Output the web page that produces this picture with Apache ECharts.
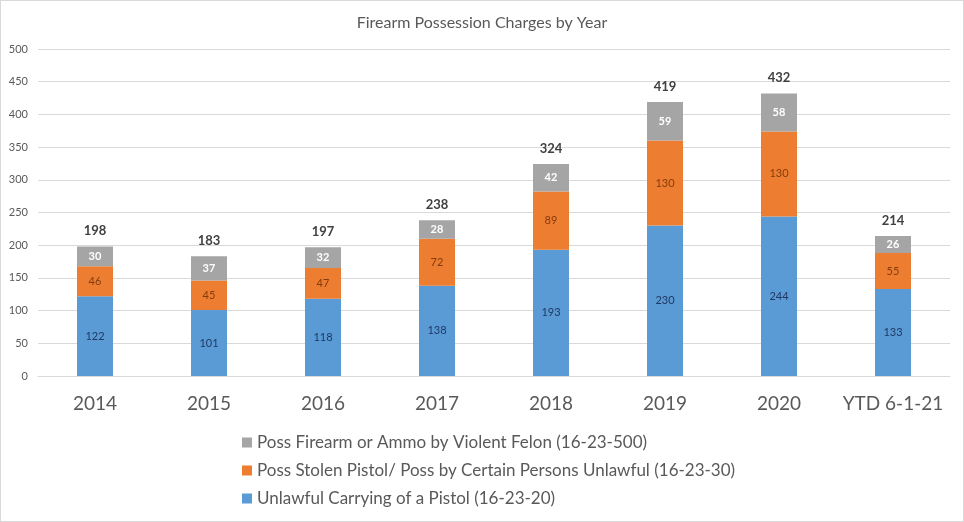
<!DOCTYPE html>
<html>
<head>
<meta charset="utf-8">
<script src="https://cdn.jsdelivr.net/npm/echarts@6/dist/echarts.min.js"></script>
<style>
html,body{margin:0;padding:0;background:#fff;}
#chart{width:962px;height:520px;border:1px solid #d9d9d9;}
</style>
</head>
<body>
<div id="chart"></div>
<script>
const categories = ['2014','2015','2016','2017','2018','2019','2020','YTD 6-1-21'];
const unlawfulCarrying = [122,101,118,138,193,230,244,133];
const stolenPistol = [46,45,47,72,89,130,130,55];
const violentFelon = [30,37,32,28,42,59,58,26];
const yTicks = {min:0,max:500,interval:50};

const names = [
  'Unlawful Carrying of a Pistol (16-23-20)',
  'Poss Stolen Pistol/ Poss by Certain Persons Unlawful (16-23-30)',
  'Poss Firearm or Ammo by Violent Felon (16-23-500)'
];
const totals = categories.map((c,i)=>unlawfulCarrying[i]+stolenPistol[i]+violentFelon[i]);
const font = 'Lato, "Open Sans", sans-serif';

const chart = echarts.init(document.getElementById('chart'));
chart.setOption({
  animation:false,
  textStyle:{fontFamily:font},
  title:{text:'Firearm Possession Charges by Year',left:'center',top:9,
    textStyle:{fontSize:16,fontWeight:'normal',color:'#595959',fontFamily:font}},
  grid:{left:37,right:13,top:48,bottom:145,containLabel:false},
  legend:{orient:'vertical',left:236,top:428,itemGap:11,itemWidth:10,itemHeight:10,
    icon:'rect',data:[names[2],names[1],names[0]],
    textStyle:{fontSize:17,color:'#595959',fontFamily:font}},
  xAxis:{type:'category',data:categories,
    axisLine:{lineStyle:{color:'#d9d9d9'}},axisTick:{show:false},
    axisLabel:{interval:0,fontSize:19,color:'#595959',margin:18,fontFamily:font}},
  yAxis:{type:'value',min:yTicks.min,max:yTicks.max,interval:yTicks.interval,
    axisLine:{show:false},axisTick:{show:false},
    splitLine:{lineStyle:{color:'#d9d9d9'}},
    axisLabel:{fontSize:11,color:'#595959',margin:10,fontFamily:font}},
  series:[
    {name:names[0],type:'bar',stack:'t',barWidth:36,data:unlawfulCarrying,
      itemStyle:{color:'#5B9BD5'},
      label:{show:true,position:'inside',color:'#203864',fontSize:11,fontFamily:font}},
    {name:names[1],type:'bar',stack:'t',barWidth:36,data:stolenPistol,
      itemStyle:{color:'#ED7D31'},
      label:{show:true,position:'inside',color:'#843C0C',fontSize:11,fontFamily:font}},
    {name:names[2],type:'bar',stack:'t',barWidth:36,data:violentFelon,
      itemStyle:{color:'#A5A5A5'},
      label:{show:true,position:'inside',color:'#ffffff',fontSize:11,fontWeight:'bold',fontFamily:font}},
    {name:'Total',type:'bar',stack:'t',barWidth:36,data:categories.map(()=>0),
      itemStyle:{color:'transparent'},
      label:{show:true,position:'top',distance:9,color:'#404040',fontSize:13,fontWeight:'bold',fontFamily:font,
        formatter:p=>String(totals[p.dataIndex])}}
  ]
});
</script>
</body>
</html>
